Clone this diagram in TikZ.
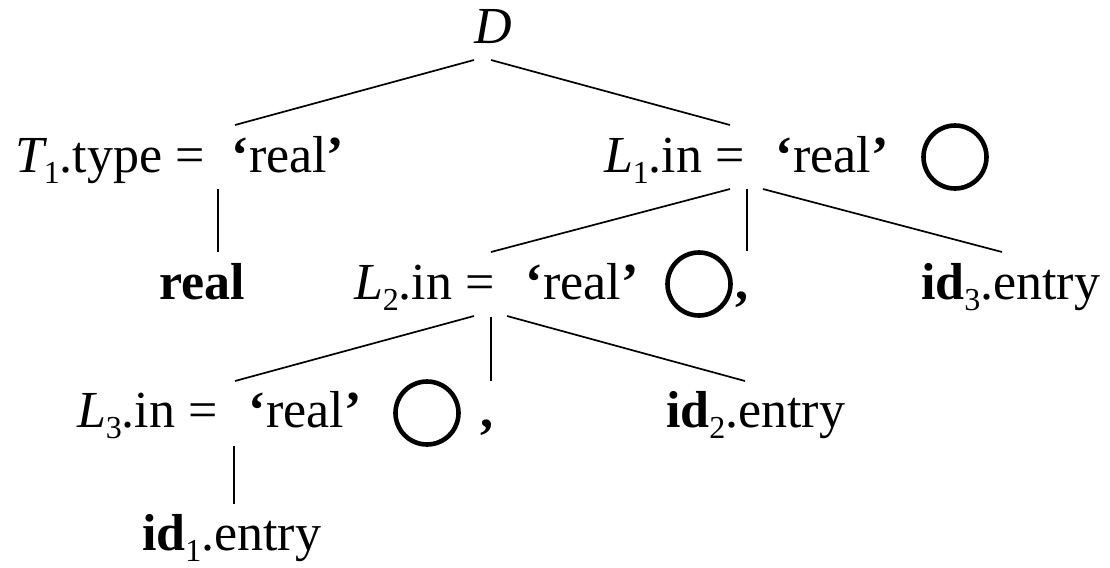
\documentclass[tikz,border=0pt]{standalone}
\usepackage{fontspec}
\setmainfont{Liberation Serif}
\newcommand\sbs[1]{\raisebox{-0.22em}{\fontsize{16}{16}\selectfont #1}}
\newcommand\realq{\textbf{‘}real\textbf{’}}
\begin{document}
\begin{tikzpicture}[x=0.5pt,y=-0.5pt,
  lbl/.style={anchor=base west,inner sep=0pt,outer sep=0pt,font=\fontsize{26}{30}\selectfont},
  ring/.style={circle,draw,line width=2.3pt,minimum size=31.5pt,inner sep=0pt},
  edge/.style={line width=0.85pt}]
\useasboundingbox (0,0) rectangle (1110,568);
% labels
\node[lbl] (D) at (474,43) {\textit{D}};
\node[lbl] (T1) at (16,172) {\textit{T}\kern-0.08em\sbs{1}.type =\hspace{0.52em}\realq};
\node[lbl] (L1) at (604,172) {\textit{L}\sbs{1}.in =\hspace{0.6em}\realq};
\node[ring] (c1) at (955,157) {};
\node[lbl] (real) at (159,299) {\textbf{real}};
\node[lbl] (L2) at (354,299) {\textit{L}\sbs{2}.in =\hspace{0.6em}\realq};
\node[ring] (c2) at (699,284) {};
\node[lbl] (cm2) at (735,299) {\textbf{,}};
\node[lbl] (id3) at (921,299) {\textbf{id}\sbs{3}.entry};
\node[lbl] (L3) at (77,427) {\textit{L}\sbs{3}.in =\hspace{0.6em}\realq};
\node[ring] (c3) at (427,413) {};
\node[lbl] (cm3) at (480,427) {\textbf{,}};
\node[lbl] (id2) at (666,427) {\textbf{id}\sbs{2}.entry};
\node[lbl] (id1) at (142,550) {\textbf{id}\sbs{1}.entry};
% attach points
\coordinate (D-l) at (474,60);
\coordinate (D-r) at (491,60);
\coordinate (T1-t) at (235,125);
\coordinate (T1-b) at (218,189);
\coordinate (real-t) at (218,252);
\coordinate (L1-t) at (730,125);
\coordinate (L1-bl) at (730,189);
\coordinate (L1-bm) at (747,189);
\coordinate (L1-br) at (763,189);
\coordinate (L2-t) at (491,252);
\coordinate (cm2-t) at (747,251);
\coordinate (id3-t) at (1002,252);
\coordinate (L2-bl) at (474,316);
\coordinate (L2-bm) at (491,317);
\coordinate (L2-br) at (507,316);
\coordinate (L3-t) at (235,381);
\coordinate (cm3-t) at (491,381);
\coordinate (id2-t) at (745,381);
\coordinate (L3-b) at (234,446);
\coordinate (id1-t) at (234,504);
% connectors
\draw[edge] (D-l) -- (T1-t);
\draw[edge] (D-r) -- (L1-t);
\draw[edge] (T1-b) -- (real-t);
\draw[edge] (L1-bl) -- (L2-t);
\draw[edge] (L1-bm) -- (cm2-t);
\draw[edge] (L1-br) -- (id3-t);
\draw[edge] (L2-bl) -- (L3-t);
\draw[edge] (L2-bm) -- (cm3-t);
\draw[edge] (L2-br) -- (id2-t);
\draw[edge] (L3-b) -- (id1-t);
\end{tikzpicture}
\end{document}
